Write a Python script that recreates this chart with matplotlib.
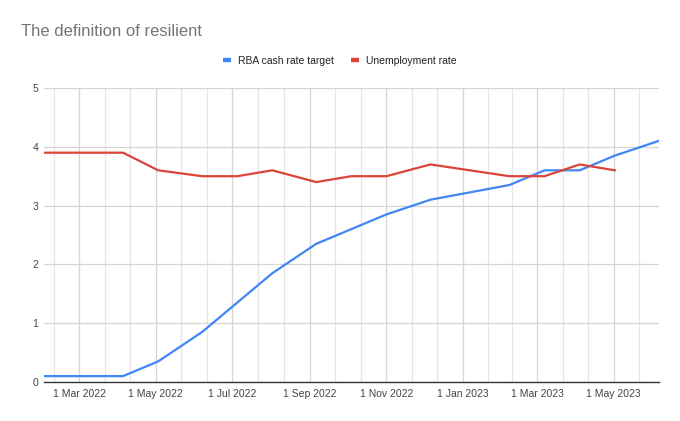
import matplotlib
matplotlib.use("Agg")
import matplotlib.pyplot as plt
import matplotlib.dates as mdates
import numpy as np
import datetime as dt

plt.rcParams['font.family'] = ['Liberation Sans', 'DejaVu Sans']

dates = ["2022-02-01", "2022-03-01", "2022-04-05", "2022-05-03", "2022-06-07",
         "2022-07-05", "2022-08-02", "2022-09-06", "2022-10-04", "2022-11-01",
         "2022-12-06", "2023-02-07", "2023-03-07", "2023-04-04", "2023-05-02",
         "2023-06-06"]
cash_rate = [0.10, 0.10, 0.10, 0.35, 0.85, 1.35, 1.85, 2.35, 2.60, 2.85,
             3.10, 3.35, 3.60, 3.60, 3.85, 4.10]
unemployment = [3.9, 3.9, 3.9, 3.6, 3.5, 3.5, 3.6, 3.4, 3.5, 3.5,
                3.7, 3.5, 3.5, 3.7, 3.6, np.nan]
major_ticks = ["2022-03-01", "2022-05-01", "2022-07-01", "2022-09-01",
               "2022-11-01", "2023-01-01", "2023-03-01", "2023-05-01"]
major_labels = ["1 Mar 2022", "1 May 2022", "1 Jul 2022", "1 Sep 2022",
                "1 Nov 2022", "1 Jan 2023", "1 Mar 2023", "1 May 2023"]
series_names = ["RBA cash rate target", "Unemployment rate"]
title = "The definition of resilient"

x = mdates.date2num([dt.date.fromisoformat(d) for d in dates])
xt = mdates.date2num([dt.date.fromisoformat(d) for d in major_ticks])

fig = plt.figure(figsize=(6.8, 4.21), dpi=100)
ax = fig.add_axes([44/680, 1-382/421, (658.7-44)/680, (382-88)/421])

# minor gridlines: thirds between major ticks (extend one interval each side)
ext = np.concatenate([[xt[0] - (xt[1]-xt[0])], xt, [xt[-1] + (xt[-1]-xt[-2])]])
minors = []
for a, b in zip(ext[:-1], ext[1:]):
    minors += [a + (b-a)/3, a + 2*(b-a)/3]
for m in minors:
    ax.axvline(m, color='#e6e6e6', lw=0.9, zorder=0)
for t in xt:
    ax.axvline(t, color='#d6d6d6', lw=0.9, zorder=0)
for yv in range(1, 6):
    ax.axhline(yv, color='#d6d6d6', lw=0.9, zorder=0)

ax.plot(x, cash_rate, color='#4285F4', lw=1.6, label=series_names[0], zorder=3)
ax.plot(x, unemployment, color='#DB4437', lw=1.6, label=series_names[1], zorder=3)

ax.set_xlim(x[0], x[-1])
ax.set_ylim(0, 5)
ax.set_xticks(xt)
ax.set_xticklabels(major_labels)
ax.set_yticks(range(0, 6))
ax.tick_params(axis='both', length=0, labelsize=7.5, colors='#444444')
ax.tick_params(axis='x', pad=5)
ax.tick_params(axis='y', pad=4.3)
for s in ['top', 'right', 'left']:
    ax.spines[s].set_visible(False)
ax.spines['bottom'].set_color('#333333')
ax.spines['bottom'].set_linewidth(1.0)
ax.spines['bottom'].set_zorder(4)

fig.text(21/680, 1-31/421, title, fontsize=12, color='#757575', va='center', ha='left')

handles, labels = ax.get_legend_handles_labels()
leg = fig.legend(handles, labels, loc='center', bbox_to_anchor=(0.5, 1-61/421),
                 ncol=2, frameon=False, fontsize=7.5, handlelength=0.75,
                 handletextpad=0.7, columnspacing=1.6)
for h in leg.get_lines():
    h.set_linewidth(3.2)
    h.set_solid_capstyle('butt')
for t in leg.get_texts():
    t.set_color('#222222')

fig.savefig("out.png", dpi=100)
